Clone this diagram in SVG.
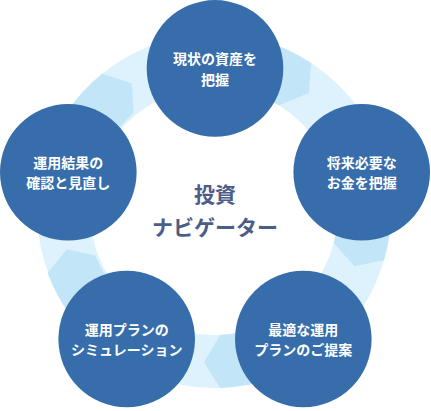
<svg xmlns="http://www.w3.org/2000/svg" width="431" height="411" viewBox="0 0 431 411">
<style>
.ring{fill:none;stroke:#ddf2fd;stroke-width:53}
.arrow{fill:#c3e5f8}
.node{fill:#376daa}
.lbl{font-family:"Noto Sans CJK JP","Noto Sans",sans-serif;font-weight:700;font-size:14px;fill:#ffffff;text-anchor:middle}
.title{font-family:"Noto Sans CJK JP","Noto Sans",sans-serif;font-weight:700;font-size:21px;fill:#4b5d88;text-anchor:middle}
</style>
<rect width="431" height="411" fill="#ffffff"/>
<g id="connectors">
<circle class="ring" cx="214" cy="211" r="150.5"/>
<path class="arrow" d="M215.2 34 A177 177 0 0 1 311.2 63.1 L308.9 92.9 L278.6 105.2 A124 124 0 0 0 214.9 87 Z"/>
<path class="arrow" d="M385.2 166.1 A177 177 0 0 1 384.1 260.1 L354.5 266.3 L333.8 243.1 A124 124 0 0 0 333.9 179.5 Z"/>
<path class="arrow" d="M315.3 356.2 A177 177 0 0 1 220.2 387.9 L204 362.2 L220.1 334.9 A124 124 0 0 0 284.9 312.7 Z"/>
<path class="arrow" d="M114.2 357.2 A177 177 0 0 1 47.5 273 L67 249.3 L95 255.5 A124 124 0 0 0 144.1 313.4 Z"/>
<path class="arrow" d="M42.9 165.5 A177 177 0 0 1 102.1 73.8 L131.9 83.6 L133.5 113 A124 124 0 0 0 94.2 179.1 Z"/>
</g>
<g id="node-top">
<circle class="node" cx="215" cy="68.4" r="68.3"/>
<text class="lbl" x="215" y="64">現状の資産を</text>
<text class="lbl" x="215" y="84.5">把握</text>
</g>
<g id="node-right">
<circle class="node" cx="361.7" cy="172.3" r="68.3"/>
<text class="lbl" x="361.7" y="167.8">将来必要な</text>
<text class="lbl" x="361.7" y="188.3">お金を把握</text>
</g>
<g id="node-bottom-right">
<circle class="node" cx="303.3" cy="339" r="68.3"/>
<text class="lbl" x="303.3" y="334.5">最適な運用</text>
<text class="lbl" x="303.3" y="355">プランのご提案</text>
</g>
<g id="node-bottom-left">
<circle class="node" cx="126.7" cy="339" r="68.3"/>
<text class="lbl" x="126.7" y="334.5">運用プランの</text>
<text class="lbl" x="126.7" y="355">シミュレーション</text>
</g>
<g id="node-left">
<circle class="node" cx="68.3" cy="172.3" r="68.3"/>
<text class="lbl" x="68.3" y="167.8">運用結果の</text>
<text class="lbl" x="68.3" y="188.3">確認と見直し</text>
</g>
<g id="center">
<text class="title" x="215" y="202">投資</text>
<text class="title" x="215" y="235">ナビゲーター</text>
</g>
</svg>
